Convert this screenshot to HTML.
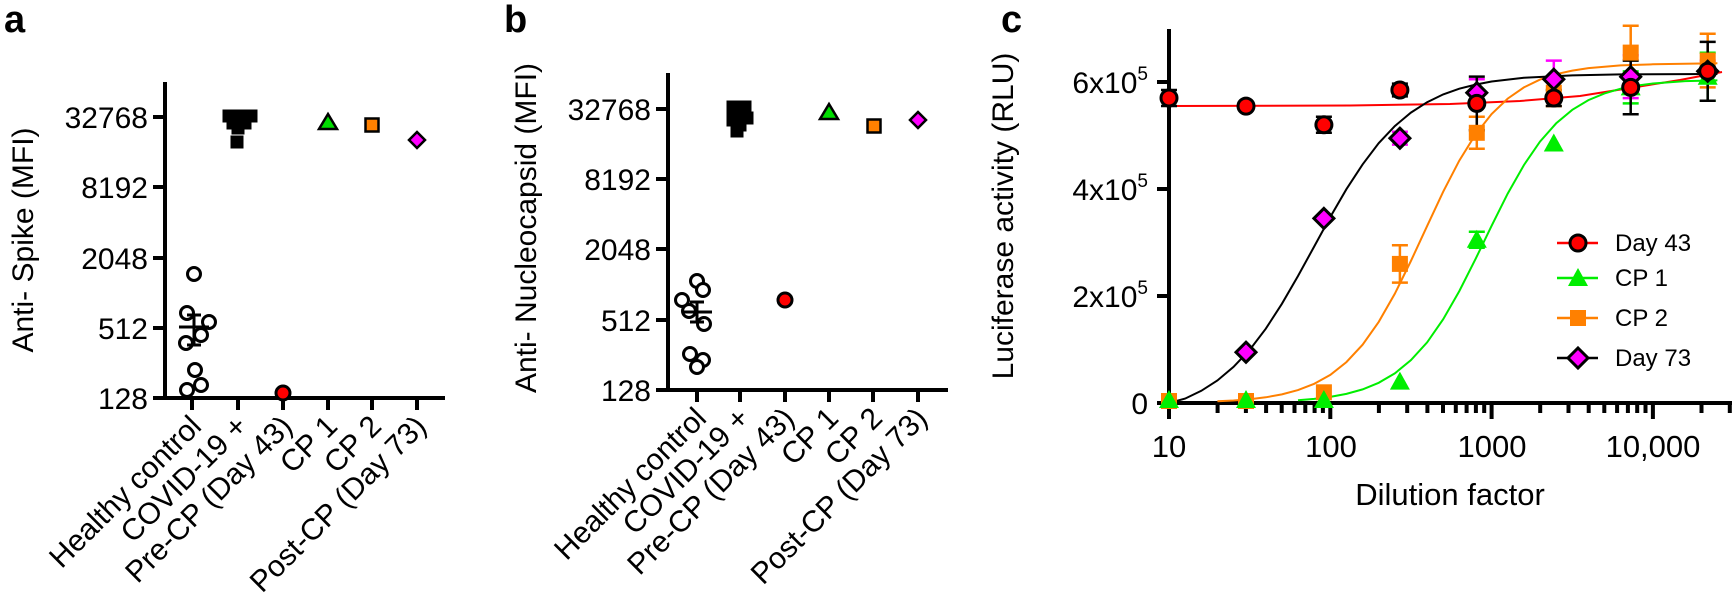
<!DOCTYPE html>
<html><head><meta charset="utf-8"><style>
html,body{margin:0;padding:0;background:#fff}
svg{display:block;font-family:"Liberation Sans",Arial,sans-serif}
</style></head><body>
<svg width="1732" height="606" viewBox="0 0 1732 606" xmlns="http://www.w3.org/2000/svg">
<defs>
<circle id="mc" cx="0" cy="0" r="8" fill="#ff0000" stroke="#000" stroke-width="3"/>
<rect id="ms" x="-8" y="-8" width="16" height="16" fill="#ff8000"/>
<path id="mt" d="M0 -10L10 8L-10 8Z" fill="#00ee00"/>
<path id="md" d="M0 -10L10 0L0 10L-10 0Z" fill="#ff00ff" stroke="#000" stroke-width="3"/>
<circle id="ho" cx="0" cy="0" r="6.5" fill="#fff" stroke="#000" stroke-width="3"/>
<rect id="bs" x="-6.5" y="-6.5" width="13" height="13" fill="#000"/>
</defs>
<g font-weight="bold" font-size="38">
<text x="4" y="32">a</text><text x="504" y="32">b</text><text x="1001" y="32">c</text>
</g>
<!-- Panel a -->
<g stroke="#000" stroke-width="4" fill="none">
<path d="M165 82 V398 H445"/>
<path d="M153 117H165M153 187H165M153 258H165M153 328H165M153 398H165"/>
<path d="M192 398V410M238 398V410M283 398V410M328 398V410M372 398V410M417 398V410"/>
</g>
<g font-size="30" text-anchor="end">
<text x="148" y="128">32768</text><text x="148" y="198">8192</text><text x="148" y="269">2048</text><text x="148" y="339">512</text><text x="148" y="409">128</text>
</g>
<text transform="translate(33,240) rotate(-90)" font-size="30" text-anchor="middle">Anti- Spike (MFI)</text>
<g font-size="30" text-anchor="end">
<text transform="translate(203,428) rotate(-45)">Healthy control</text>
<text transform="translate(249,428) rotate(-45)">COVID-19 +</text>
<text transform="translate(294,428) rotate(-45)">Pre-CP (Day 43)</text>
<text transform="translate(339,428) rotate(-45)">CP 1</text>
<text transform="translate(383,428) rotate(-45)">CP 2</text>
<text transform="translate(428,428) rotate(-45)">Post-CP (Day 73)</text>
</g>
<g>
<use href="#ho" x="194" y="274"/><use href="#ho" x="187" y="313"/><use href="#ho" x="209" y="322"/><use href="#ho" x="201" y="335"/>
<use href="#ho" x="186" y="343"/><use href="#ho" x="195" y="370"/><use href="#ho" x="187" y="390"/><use href="#ho" x="201" y="385"/>
<path d="M179 327H209M194 315V345M187 315H201M187 345H201" stroke="#000" stroke-width="3"/>
<use href="#bs" x="229" y="116"/><use href="#bs" x="240" y="116"/><use href="#bs" x="251" y="116"/><use href="#bs" x="233" y="123"/>
<use href="#bs" x="245" y="123"/><use href="#bs" x="238" y="128"/><use href="#bs" x="237" y="142"/>
<circle cx="283" cy="393" r="7" fill="#ff0000" stroke="#000" stroke-width="3"/>
<path d="M328 114L337 129L319 129Z" fill="#00dd00" stroke="#000" stroke-width="2.5"/>
<rect x="365.5" y="118.5" width="13" height="13" fill="#ff8000" stroke="#000" stroke-width="2.5"/>
<path d="M417 132L425 140L417 148L409 140Z" fill="#ff00ff" stroke="#000" stroke-width="2.5"/>
</g>
<!-- Panel b -->
<g stroke="#000" stroke-width="4" fill="none">
<path d="M668 73 V390 H948"/>
<path d="M656 109H668M656 179H668M656 249H668M656 320H668M656 390H668"/>
<path d="M697 390V402M740 390V402M785 390V402M829 390V402M873 390V402M918 390V402"/>
</g>
<g font-size="30" text-anchor="end">
<text x="651" y="120">32768</text><text x="651" y="190">8192</text><text x="651" y="260">2048</text><text x="651" y="331">512</text><text x="651" y="401">128</text>
</g>
<text transform="translate(536,228) rotate(-90)" font-size="30" text-anchor="middle">Anti- Nucleocapsid (MFI)</text>
<g font-size="30" text-anchor="end">
<text transform="translate(708,420) rotate(-45)">Healthy control</text>
<text transform="translate(751,420) rotate(-45)">COVID-19 +</text>
<text transform="translate(796,420) rotate(-45)">Pre-CP (Day 43)</text>
<text transform="translate(840,420) rotate(-45)">CP 1</text>
<text transform="translate(884,420) rotate(-45)">CP 2</text>
<text transform="translate(929,420) rotate(-45)">Post-CP (Day 73)</text>
</g>
<g>
<use href="#ho" x="697" y="281"/><use href="#ho" x="703" y="290"/><use href="#ho" x="682" y="300"/><use href="#ho" x="689" y="311"/>
<use href="#ho" x="704" y="324"/><use href="#ho" x="690" y="354"/><use href="#ho" x="703" y="360"/><use href="#ho" x="697" y="367"/>
<path d="M682 312H712M697 302V322M690 302H704M690 322H704" stroke="#000" stroke-width="3"/>
<use href="#bs" x="733" y="107"/><use href="#bs" x="745" y="107"/><use href="#bs" x="740" y="114"/><use href="#bs" x="733" y="120"/>
<use href="#bs" x="747" y="118"/><use href="#bs" x="740" y="125"/><use href="#bs" x="737" y="131"/>
<circle cx="785" cy="300" r="7" fill="#ff0000" stroke="#000" stroke-width="3"/>
<path d="M829 104L838 119L820 119Z" fill="#00dd00" stroke="#000" stroke-width="2.5"/>
<rect x="867.5" y="119.5" width="13" height="13" fill="#ff8000" stroke="#000" stroke-width="2.5"/>
<path d="M918 112L926 120L918 128L910 120Z" fill="#ff00ff" stroke="#000" stroke-width="2.5"/>
</g>
<!-- Panel c -->
<g stroke="#000" stroke-width="4" fill="none">
<path d="M1169 29 V403 H1732"/>
<path d="M1157 403H1169M1157 296H1169M1157 189H1169M1157 82H1169"/>
<path d="M1169 403V419M1217.6 403V413M1245.9 403V413M1266.1 403V413M1281.7 403V413M1294.5 403V413M1305.3 403V413M1314.6 403V413M1322.9 403V413
M1330.3 403V419M1378.9 403V413M1407.2 403V413M1427.4 403V413M1443 403V413M1455.8 403V413M1466.6 403V413M1475.9 403V413M1484.2 403V413
M1491.6 403V419M1540.2 403V413M1568.5 403V413M1588.7 403V413M1604.3 403V413M1617.1 403V413M1627.9 403V413M1637.2 403V413M1645.5 403V413
M1652.9 403V419M1701.5 403V413M1729.8 403V413"/>
</g>
<g font-size="30" text-anchor="end">
<text x="1148" y="414">0</text>
<text x="1148" y="307">2x10<tspan font-size="19" dy="-13">5</tspan></text>
<text x="1148" y="200">4x10<tspan font-size="19" dy="-13">5</tspan></text>
<text x="1148" y="93">6x10<tspan font-size="19" dy="-13">5</tspan></text>
</g>
<text transform="translate(1013,216) rotate(-90)" font-size="30" text-anchor="middle">Luciferase activity (RLU)</text>
<g font-size="31" text-anchor="middle">
<text x="1169" y="457">10</text><text x="1331" y="457">100</text><text x="1492" y="457">1000</text><text x="1653" y="457">10,000</text>
<text x="1450" y="505">Dilution factor</text>
</g>
<g font-size="24">
<text x="1615" y="251">Day 43</text><text x="1615" y="286">CP 1</text><text x="1615" y="326">CP 2</text><text x="1615" y="366">Day 73</text>
</g>
<!-- curves -->
<g fill="none" stroke-width="2">
<path stroke="#ff0000" d="M1169 106 L1350 105.5 L1450 104 L1520 101 L1580 96 L1630 88 L1680 80 L1722 72"/>
<path stroke="#00ee00" d="M1298 400.3L1314.2 398.9L1330.3 396.9L1346.4 393.9L1362.6 389.4L1378.7 382.8L1394.8 373.4L1410.9 360.2L1427.1 342.4L1443.2 319.2L1459.3 291.1L1475.5 259.1L1491.6 225.8L1507.7 193.6L1523.9 165.1L1540 141.6L1556.1 123.4L1572.3 109.8L1588.4 100.1L1604.5 93.4L1620.6 88.7L1636.8 85.6L1652.9 83.5L1685.2 81.1L1717.4 80.4"/>
<path stroke="#ff8000" d="M1217.4 401.3L1233.5 400.5L1249.7 399.2L1265.8 397.3L1281.9 394.4L1298 390.1L1314.2 383.8L1330.3 374.9L1346.4 362.1L1362.6 344.7L1378.7 321.9L1394.8 293.8L1410.9 261L1427.1 226.1L1443.2 191.7L1459.3 160.6L1475.5 134.5L1491.6 114L1507.7 98.6L1523.9 87.4L1540 79.6L1556.1 74.2L1572.3 70.6L1588.4 68.1L1620.6 65.4L1652.9 64.3L1717.4 63.3"/>
<path stroke="#000" d="M1169 403L1185.1 398.6L1201.3 390.8L1217.4 380.5L1233.5 366.9L1249.7 349.8L1265.8 328.7L1281.9 303.8L1298 276L1314.2 246.5L1330.3 217L1346.4 189.2L1362.6 164.4L1378.7 143.2L1394.8 126.1L1410.9 112.6L1427.1 102.2L1443.2 94.4L1459.3 88.7L1475.5 84.6L1491.6 81.5L1523.9 77.8L1572.3 75.4L1620.6 74.4L1717.4 74"/>
</g>
<!-- error bars -->
<g fill="none" stroke-width="2.5">
<path stroke="#ff8000" d="M1399.9 245.2V282.6M1391.9 245.2h16M1391.9 282.6h16M1476.8 116.8V148.8M1468.8 116.8h16M1468.8 148.8h16M1553.8 79.3V106.1M1545.8 79.3h16M1545.8 106.1h16M1630.7 25.8V79.4M1622.7 25.8h16M1622.7 79.4h16M1707.7 33.8V87.4M1699.7 33.8h16M1699.7 87.4h16"/>
<path stroke="#00ee00" d="M1476.8 231.8V247.8M1468.8 231.8h16M1468.8 247.8h16M1630.7 71.4V103.4M1622.7 71.4h16M1622.7 103.4h16M1707.7 52.7V100.7M1699.7 52.7h16M1699.7 100.7h16"/>
<path stroke="#ff00ff" d="M1399.9 131.8V144.6M1391.9 131.8h16M1391.9 144.6h16M1476.8 79.3V106.1M1468.8 79.3h16M1468.8 106.1h16M1553.8 60.6V98M1545.8 60.6h16M1545.8 98h16M1630.7 55.3V98.1M1622.7 55.3h16M1622.7 98.1h16M1707.7 60.6V82M1699.7 60.6h16M1699.7 82h16"/>
<path stroke="#000" d="M1169 90V106M1161 90h16M1161 106h16M1246 103.4V108.8M1238 103.4h16M1238 108.8h16M1323.9 116.8V132.8M1315.9 116.8h16M1315.9 132.8h16M1399.9 83.6V96.4M1391.9 83.6h16M1391.9 96.4h16M1476.8 76.6V130.2M1468.8 76.6h16M1468.8 130.2h16M1553.8 90V106M1545.8 90h16M1545.8 106h16M1630.7 60.6V114.2M1622.7 60.6h16M1622.7 114.2h16M1707.7 41.9V100.7M1699.7 41.9h16M1699.7 100.7h16"/>
</g>
<!-- markers -->
<g>
<use href="#ms" x="1169" y="401"/><use href="#ms" x="1246" y="401"/><use href="#ms" x="1323.9" y="392.3"/><use href="#ms" x="1399.9" y="263.9"/>
<use href="#ms" x="1476.8" y="132.8"/><use href="#ms" x="1553.8" y="92.7"/><use href="#ms" x="1630.7" y="52.6"/><use href="#ms" x="1707.7" y="60.6"/>
<use href="#mt" x="1169" y="400"/><use href="#mt" x="1246" y="400"/><use href="#mt" x="1323.9" y="400"/><use href="#mt" x="1399.9" y="381.6"/>
<use href="#mt" x="1476.8" y="239.8"/><use href="#mt" x="1553.8" y="143.5"/><use href="#mt" x="1630.7" y="87.4"/><use href="#mt" x="1707.7" y="76.7"/>
<use href="#md" x="1246" y="352.2"/><use href="#md" x="1323.9" y="218.4"/><use href="#md" x="1399.9" y="138.2"/>
<use href="#md" x="1476.8" y="92.7"/><use href="#md" x="1553.8" y="79.3"/><use href="#md" x="1630.7" y="76.7"/><use href="#md" x="1707.7" y="71.3"/>
<use href="#mc" x="1169" y="98"/><use href="#mc" x="1246" y="106.1"/><use href="#mc" x="1323.9" y="124.8"/><use href="#mc" x="1399.9" y="90"/>
<use href="#mc" x="1476.8" y="103.4"/><use href="#mc" x="1553.8" y="98"/><use href="#mc" x="1630.7" y="87.4"/><use href="#mc" x="1707.7" y="71.3"/>
</g>
<!-- legend -->
<g stroke-width="2.5">
<path d="M1557 243H1598" stroke="#ff0000"/><path d="M1557 278H1598" stroke="#00ee00"/>
<path d="M1557 318H1598" stroke="#ff8000"/><path d="M1557 358H1598" stroke="#000"/>
</g>
<use href="#mc" x="1578" y="243"/><use href="#mt" x="1578" y="278"/><use href="#ms" x="1578" y="318"/><use href="#md" x="1578" y="358"/>
</svg>
</body></html>
